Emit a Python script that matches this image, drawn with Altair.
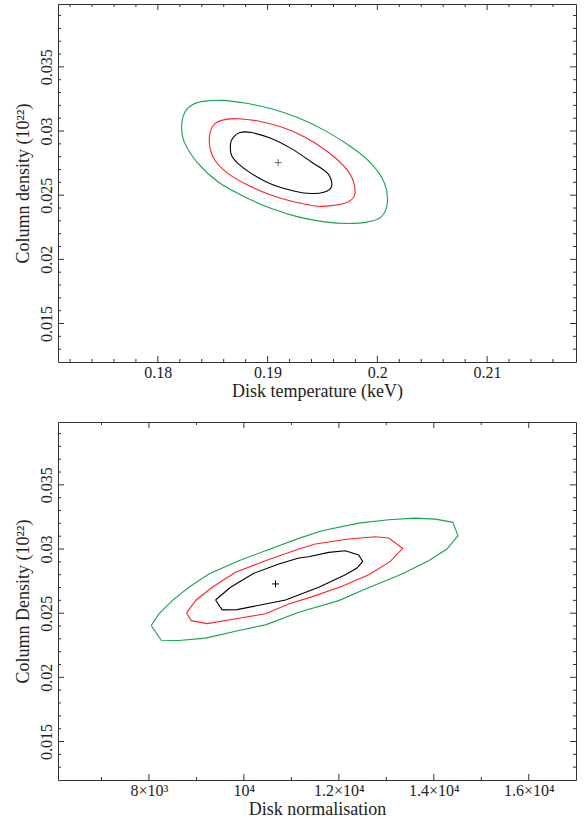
import altair as alt
import pandas as pd

# ---------------- top panel: disk temperature vs column density ----------------
top_black_x = [0.18747, 0.18853, 0.19035, 0.19217, 0.19399, 0.19535, 0.19575, 0.19581, 0.19520,
               0.19399, 0.19248, 0.19035, 0.18853, 0.18732, 0.18671, 0.18662, 0.18686]
top_black_y = [0.02988, 0.02988, 0.02941, 0.02863, 0.02759, 0.02681, 0.02630, 0.02564, 0.02525,
               0.02513, 0.02531, 0.02585, 0.02668, 0.02746, 0.02811, 0.02902, 0.02949]
top_red_x = [0.18520, 0.18611, 0.18732, 0.18914, 0.19126, 0.19338, 0.19550, 0.19702, 0.19778, 0.19793,
             0.19732, 0.19611, 0.19460, 0.19248, 0.19035, 0.18823, 0.18641, 0.18520, 0.18474, 0.18474]
top_red_y = [0.03058, 0.03089, 0.03096, 0.03078, 0.03031, 0.02953, 0.02837, 0.02720, 0.02616, 0.02500,
             0.02447, 0.02422, 0.02414, 0.02447, 0.02500, 0.02577, 0.02668, 0.02772, 0.02875, 0.02980]
top_green_x = [0.18247, 0.18322, 0.18429, 0.18580, 0.18793, 0.19035, 0.19278, 0.19520, 0.19763, 0.19945,
               0.20066, 0.20090, 0.20035, 0.19914, 0.19732, 0.19520, 0.19278, 0.19035, 0.18793, 0.18550,
               0.18368, 0.18247, 0.18216]
top_green_y = [0.03148, 0.03208, 0.03233, 0.03239, 0.03218, 0.03174, 0.03104, 0.03005, 0.02875, 0.02746,
               0.02591, 0.02435, 0.02331, 0.02292, 0.02279, 0.02292, 0.02331, 0.02396, 0.02486, 0.02603,
               0.02746, 0.02902, 0.03031]
top_best = [0.19096, 0.02754]

top_x_domain = [0.1709, 0.2181]
top_x_major = [0.18, 0.19, 0.20, 0.21]
top_x_labels = ["0.18", "0.19", "0.2", "0.21"]
top_x_minor = [0.172, 0.174, 0.176, 0.178, 0.182, 0.184, 0.186, 0.188, 0.192, 0.194, 0.196, 0.198,
               0.202, 0.204, 0.206, 0.208, 0.212, 0.214, 0.216]

# ---------------- bottom panel: disk normalisation vs column density ----------------
bot_black_x = [9403, 9719, 10209, 10735, 11156, 11366, 11787, 12138, 12418, 12503, 12383, 12138,
               11577, 10876, 10455, 9858, 9542, 9403]
bot_black_y = [0.02603, 0.02702, 0.02811, 0.02883, 0.02930, 0.02940, 0.02974, 0.02987, 0.02953, 0.02904,
               0.02852, 0.02800, 0.02702, 0.02603, 0.02572, 0.02528, 0.02526, 0.02603]
bot_red_x = [8793, 8995, 9332, 9824, 10455, 11156, 11507, 12208, 12770, 13050, 13344, 13085, 12629,
             12067, 11507, 10946, 10455, 9894, 9227, 8890, 8793]
bot_red_y = [0.02502, 0.02603, 0.02702, 0.02819, 0.02909, 0.03000, 0.03039, 0.03078, 0.03096, 0.03086,
             0.03005, 0.02904, 0.02800, 0.02710, 0.02637, 0.02572, 0.02495, 0.02461, 0.02419, 0.02442, 0.02502]
bot_green_x = [8048, 8210, 8490, 8842, 9262, 9894, 10455, 11156, 11646, 12418, 13050, 13611, 14032,
               14403, 14508, 14276, 13891, 13330, 12559, 11998, 11156, 10455, 9894, 9193, 8631, 8259, 8048]
bot_green_y = [0.02404, 0.02495, 0.02598, 0.02702, 0.02806, 0.02909, 0.02987, 0.03083, 0.03142, 0.03202,
               0.03228, 0.03241, 0.03233, 0.03208, 0.03103, 0.03000, 0.02909, 0.02806, 0.02689, 0.02598,
               0.02508, 0.02409, 0.02365, 0.02306, 0.02287, 0.02289, 0.02404]
bot_best = [10667, 0.02728]

bot_x_domain = [6085, 16995]
bot_x_major = [8000, 10000, 12000, 14000, 16000]
bot_x_labels = ["8×10³", "10⁴", "1.2×10⁴", "1.4×10⁴", "1.6×10⁴"]
bot_x_minor = [7000, 9000, 11000, 13000, 15000]

# ---------------- shared y axis ----------------
y_domain = [0.0120, 0.0399]
y_major = [0.015, 0.020, 0.025, 0.030, 0.035]
y_labels = ["0.015", "0.02", "0.025", "0.03", "0.035"]
y_minor = [0.013, 0.014, 0.016, 0.017, 0.018, 0.019, 0.021, 0.022, 0.023, 0.024, 0.026, 0.027,
           0.028, 0.029, 0.031, 0.032, 0.033, 0.034, 0.036, 0.037, 0.038, 0.039]

levels = ["68%", "90%", "99%"]
level_colors = ["#000000", "#ff2424", "#12a650"]

W, H = 518, 358
FRAME = "#333333"
FONT = "Liberation Serif"


def contour_frame(curves):
    rows = []
    for lev, xs, ys in curves:
        for i, (xv, yv) in enumerate(zip(xs, ys)):
            rows.append({"level": lev, "i": i, "x": xv, "y": yv})
    return pd.DataFrame(rows)


def label_expr(values, labels):
    vals = "[" + ",".join(repr(v) for v in values) + "]"
    labs = "[" + ",".join("'" + s + "'" for s in labels) + "]"
    return f"{labs}[indexof({vals}, datum.value)]"


def panel(curves, best, best_color, x_domain, x_major, x_labels, x_minor, x_title, y_title, interp):
    xs = alt.Scale(domain=x_domain, nice=False, zero=False)
    ys = alt.Scale(domain=y_domain, nice=False, zero=False)
    df = contour_frame(curves)
    lines = alt.Chart(df).mark_line(strokeWidth=1.1, clip=True, interpolate=interp).encode(
        x=alt.X("x:Q", scale=xs, title=x_title,
                axis=alt.Axis(values=x_major, labelExpr=label_expr(x_major, x_labels),
                              ticks=False, tickSize=0, domain=False, grid=False,
                              labelPadding=2, titlePadding=2, labelFlush=False)),
        y=alt.Y("y:Q", scale=ys, title=y_title,
                axis=alt.Axis(values=y_major, labelExpr=label_expr(y_major, y_labels),
                              ticks=False, tickSize=0, domain=False, grid=False,
                              labelAngle=-90, labelAlign="center", labelBaseline="bottom",
                              labelPadding=4, titlePadding=6, labelFlush=False)),
        color=alt.Color("level:N", scale=alt.Scale(domain=levels, range=level_colors), legend=None),
        detail="level:N",
        order="i:Q",
    )
    cross = alt.Chart(pd.DataFrame({"x": [best[0]], "y": [best[1]]})).mark_point(
        shape="M-1,0L1,0M0,-1L0,1", size=49, filled=False, strokeWidth=1, color=best_color, opacity=1
    ).encode(x=alt.X("x:Q", scale=xs), y=alt.Y("y:Q", scale=ys))

    layers = [lines, cross]
    for vals, ln in ((x_major, 6), (x_minor, 3)):
        d = pd.DataFrame({"v": vals})
        layers.append(alt.Chart(d).mark_rule(color=FRAME, strokeWidth=1).encode(
            x=alt.X("v:Q", scale=xs), y=alt.value(H), y2=alt.value(H - ln)))
        layers.append(alt.Chart(d).mark_rule(color=FRAME, strokeWidth=1).encode(
            x=alt.X("v:Q", scale=xs), y=alt.value(0), y2=alt.value(ln)))
    for vals, ln in ((y_major, 6), (y_minor, 3)):
        d = pd.DataFrame({"v": vals})
        layers.append(alt.Chart(d).mark_rule(color=FRAME, strokeWidth=1).encode(
            y=alt.Y("v:Q", scale=ys), x=alt.value(0), x2=alt.value(ln)))
        layers.append(alt.Chart(d).mark_rule(color=FRAME, strokeWidth=1).encode(
            y=alt.Y("v:Q", scale=ys), x=alt.value(W), x2=alt.value(W - ln)))
    return alt.layer(*layers).properties(width=W, height=H)


top = panel(
    [("68%", top_black_x, top_black_y), ("90%", top_red_x, top_red_y), ("99%", top_green_x, top_green_y)],
    top_best, "#666666", top_x_domain, top_x_major, top_x_labels, top_x_minor,
    "Disk temperature (keV)", "Column density (10²²)", "cardinal-closed")

bottom = panel(
    [("68%", bot_black_x, bot_black_y), ("90%", bot_red_x, bot_red_y), ("99%", bot_green_x, bot_green_y)],
    bot_best, "#000000", bot_x_domain, bot_x_major, bot_x_labels, bot_x_minor,
    "Disk normalisation", "Column Density (10²²)", "linear")

chart = alt.vconcat(top, bottom, spacing=20).properties(
    padding={"left": 13, "top": 3, "right": 6, "bottom": 2}
).configure_view(stroke=FRAME, strokeWidth=1).configure_axis(
    labelFont=FONT, titleFont=FONT, labelFontSize=16, titleFontSize=18,
    titleFontWeight="normal", labelColor="#222222", titleColor="#222222"
)

chart.save("out.html", embed_options={"renderer": "svg", "actions": False})
